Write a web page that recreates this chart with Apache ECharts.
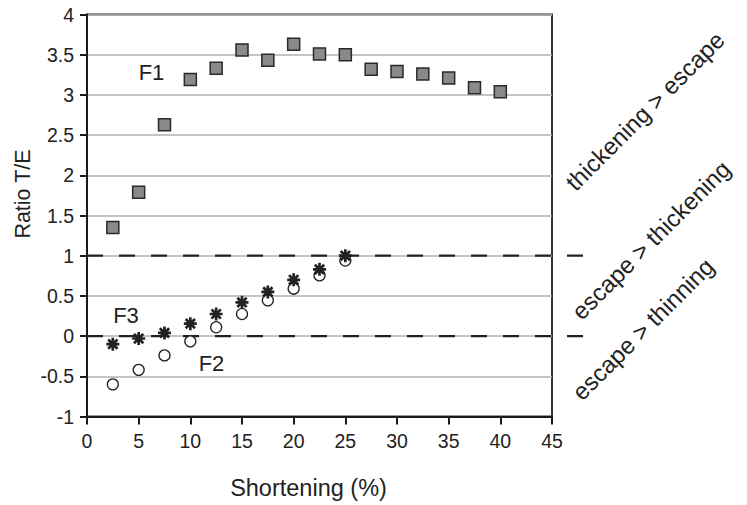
<!DOCTYPE html>
<html>
<head>
<meta charset="utf-8">
<script src="https://cdn.jsdelivr.net/npm/echarts@6/dist/echarts.min.js"></script>
<style>
html,body{margin:0;padding:0;background:#fff;}
#chart{width:747px;height:505px;}
</style>
</head>
<body>
<div id="chart"></div>
<script>
// ---- data ----
const shorteningF1 = [2.5, 5, 7.5, 10, 12.5, 15, 17.5, 20, 22.5, 25, 27.5, 30, 32.5, 35, 37.5, 40];
const ratioF1 = [1.35, 1.79, 2.63, 3.19, 3.33, 3.56, 3.43, 3.63, 3.51, 3.50, 3.32, 3.29, 3.26, 3.21, 3.09, 3.04];
const shorteningF2F3 = [2.5, 5, 7.5, 10, 12.5, 15, 17.5, 20, 22.5, 25];
const ratioF2 = [-0.60, -0.42, -0.24, -0.065, 0.11, 0.275, 0.445, 0.59, 0.755, 0.94];
const ratioF3 = [-0.10, -0.03, 0.04, 0.155, 0.275, 0.42, 0.55, 0.70, 0.83, 1.00];
const referenceLines = [0, 1];      // dashed thresholds of the T/E ratio
const referenceExtent = [0, 48];    // dashed lines run past the frame
const xTicks = {min: 0, max: 45, interval: 5};
const yTicks = {min: -1, max: 4, interval: 0.5};
const seriesLabels = ['F1', 'F2', 'F3'];
const regionLabels = ['thickening > escape', 'escape > thickening', 'escape > thinning'];
const xName = 'Shortening (%)';
const yName = 'Ratio T/E';

const FONT = '"Liberation Sans", Arial, sans-serif';
const pair = (xs, ys) => xs.map((x, i) => [x, ys[i]]);

const chart = echarts.init(document.getElementById('chart'), null, {renderer: 'svg'});

const asterisk = 'path://M0,-6L0,6M-6,0L6,0M-4.3,-4.3L4.3,4.3M-4.3,4.3L4.3,-4.3';
const txt = (text, x, y, size, rot) => ({
  type: 'text', x: x, y: y, rotation: rot || 0,
  style: {text: text, font: size + 'px ' + FONT, fill: '#222', align: 'center', verticalAlign: 'middle'}
});

chart.setOption({
  animation: false,
  backgroundColor: '#fff',
  grid: {left: 87, right: 195, top: 14.5, bottom: 88.5, show: true, borderColor: '#333', borderWidth: 2, backgroundColor: 'transparent'},
  xAxis: {
    type: 'value', min: xTicks.min, max: xTicks.max, interval: xTicks.interval,
    axisLine: {onZero: false, lineStyle: {color: '#1a1a1a', width: 2}},
    axisTick: {show: true, inside: false, length: 8, lineStyle: {color: '#1a1a1a', width: 2}},
    axisLabel: {fontFamily: FONT, fontSize: 19.5, color: '#222', margin: 14},
    splitLine: {show: false}
  },
  yAxis: {
    type: 'value', min: yTicks.min, max: yTicks.max, interval: yTicks.interval,
    axisLine: {onZero: false, lineStyle: {color: '#1a1a1a', width: 2}},
    axisTick: {show: true, inside: false, length: 7, lineStyle: {color: '#1a1a1a', width: 2}},
    axisLabel: {fontFamily: FONT, fontSize: 19.5, color: '#222', margin: 13},
    splitLine: {show: true, lineStyle: {color: '#b0b0b0', width: 1.5}}
  },
  graphic: [
    txt(yName, 22.5, 194, 21.5, Math.PI / 2),
    txt(xName, 308.5, 488, 23.5),
    txt(seriesLabels[0], 151.5, 72.5, 22),
    txt(seriesLabels[1], 211.5, 363.5, 22),
    txt(seriesLabels[2], 126, 315.5, 22),
    txt(regionLabels[0], 645, 111, 24, Math.PI / 4),
    txt(regionLabels[1], 651, 240, 24, Math.PI / 4),
    txt(regionLabels[2], 643, 329, 24, Math.PI / 4)
  ],
  series: [
    {
      type: 'custom', z: 1, clip: false, silent: true,
      data: referenceLines.map(v => [referenceExtent[0], v]),
      renderItem: function (params, api) {
        const y = api.value(1);
        const p1 = api.coord([referenceExtent[0], y]);
        const p2 = api.coord([referenceExtent[1], y]);
        return {type: 'line', shape: {x1: p1[0], y1: p1[1], x2: p2[0], y2: p2[1]},
                style: {stroke: '#222', lineWidth: 2.2, lineDash: [16, 16]}};
      }
    },
    {
      name: 'F1', type: 'scatter', z: 3, data: pair(shorteningF1, ratioF1),
      symbol: 'rect', symbolSize: 12,
      itemStyle: {color: '#8a8a8a', borderColor: '#2a2a2a', borderWidth: 1.5, opacity: 1}
    },
    {
      name: 'F2', type: 'scatter', z: 3, data: pair(shorteningF2F3, ratioF2),
      symbol: 'circle', symbolSize: 11,
      itemStyle: {color: '#ffffff', borderColor: '#222', borderWidth: 1.3, opacity: 1}
    },
    {
      name: 'F3', type: 'scatter', z: 4, data: pair(shorteningF2F3, ratioF3),
      symbol: asterisk, symbolSize: 13,
      itemStyle: {color: 'transparent', borderColor: '#222', borderWidth: 2.7, opacity: 1}
    }
  ]
});
</script>
</body>
</html>
